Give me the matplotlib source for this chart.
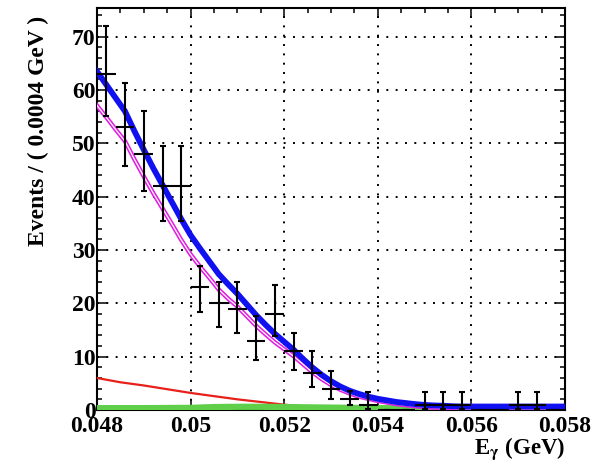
import numpy as np
import matplotlib
matplotlib.use("Agg")
import matplotlib.pyplot as plt
from matplotlib.ticker import MultipleLocator

plt.rcParams['font.family'] = ['Liberation Serif', 'DejaVu Serif']
plt.rcParams['font.weight'] = 'bold'
plt.rcParams['mathtext.fontset'] = 'stix'
plt.rcParams['mathtext.default'] = 'bf'

# ---- data (binned events, bin width 0.0004 GeV) ----
bin_centers = [0.0482, 0.0486, 0.0490, 0.0494, 0.0498, 0.0502, 0.0506, 0.0510,
               0.0514, 0.0518, 0.0522, 0.0526, 0.0530, 0.0534, 0.0538, 0.0542,
               0.0546, 0.0550, 0.0554, 0.0558, 0.0562, 0.0566, 0.0570, 0.0574, 0.0578]
counts = [63, 53, 48, 42, 42, 23, 20, 19, 13, 18, 11, 7, 4, 2, 1, 0,
          0, 1, 1, 1, 0, 0, 1, 1, 0]
err_hi = [9.0, 8.3, 8.0, 7.6, 7.6, 4.0, 4.0, 5.0, 4.6, 5.5, 3.5, 4.0, 3.3, 1.6, 2.3, 0,
          0, 2.3, 2.3, 2.3, 0, 0, 2.3, 2.3, 0]
err_lo = [7.9, 7.3, 6.9, 6.5, 6.5, 4.6, 4.5, 4.6, 3.6, 4.2, 3.5, 2.7, 1.9, 1.1, 0.8, 0,
          0, 0.8, 0.8, 0.8, 0, 0, 0.8, 0.8, 0]

# ---- fit curves, sampled every 0.0002 GeV ----
curve_x = [0.0480, 0.0482, 0.0484, 0.0486, 0.0488, 0.0490, 0.0492, 0.0494, 0.0496, 0.0498,
           0.0500, 0.0502, 0.0504, 0.0506, 0.0508, 0.0510, 0.0512, 0.0514, 0.0516, 0.0518,
           0.0520, 0.0522, 0.0524, 0.0526, 0.0528, 0.0530, 0.0532, 0.0534, 0.0536, 0.0538,
           0.0540, 0.0542, 0.0544, 0.0546, 0.0548, 0.0550, 0.0552, 0.0554, 0.0556, 0.0558,
           0.0560, 0.0562, 0.0564, 0.0566, 0.0568, 0.0570, 0.0572, 0.0574, 0.0576, 0.0578,
           0.0580]
total = [63.5, 61.0, 58.5, 56.0, 52.3, 48.8, 45.4, 42.2, 39.0, 35.8,
         32.8, 30.3, 27.9, 25.5, 23.6, 21.8, 19.8, 17.8, 16.0, 14.3,
         12.8, 11.3, 9.6, 8.0, 6.6, 5.4, 4.4, 3.6, 3.0, 2.5,
         2.1, 1.8, 1.5, 1.3, 1.1, 0.95, 0.85, 0.8, 0.7, 0.65,
         0.65, 0.65, 0.65, 0.65, 0.65, 0.65, 0.65, 0.65, 0.65, 0.65, 0.65]
signal = [57.1, 54.9, 52.6, 50.4, 47.0, 43.8, 40.7, 37.8, 34.9, 31.9,
          29.2, 26.9, 24.8, 22.6, 20.9, 19.4, 17.6, 15.8, 14.2, 12.7,
          11.4, 10.1, 8.6, 7.1, 5.8, 4.7, 3.8, 3.1, 2.5, 2.1,
          1.7, 1.4, 1.1, 0.9, 0.7, 0.55, 0.45, 0.4, 0.3, 0.25,
          0.25, 0.25, 0.25, 0.25, 0.25, 0.25, 0.25, 0.25, 0.25, 0.25, 0.25]
bkg1_x = [0.0480, 0.0485, 0.0490, 0.0495, 0.0500, 0.0505, 0.0510, 0.0515, 0.0520,
          0.0525, 0.0530, 0.0535, 0.0540, 0.0580]
bkg1 = [6.0, 5.2, 4.6, 3.9, 3.2, 2.6, 2.0, 1.5, 1.0, 0.6, 0.3, 0.1, 0.0, 0.0]
bkg2_x = [0.0480, 0.0490, 0.0500, 0.0505, 0.0510, 0.0515, 0.0520, 0.0525, 0.0530,
          0.0540, 0.0550, 0.0580]
bkg2 = [0.35, 0.35, 0.4, 0.55, 0.6, 0.6, 0.55, 0.5, 0.45, 0.35, 0.3, 0.3]

fig = plt.figure(figsize=(6.04, 4.65), dpi=100)
ax = fig.add_axes([97/604, 55/465, 468/604, 402/465])
ax.set_xlim(0.048, 0.058)
ax.set_ylim(0, 75.4)

ax.set_xticks([0.048, 0.05, 0.052, 0.054, 0.056, 0.058])
ax.set_xticklabels(['0.048', '0.05', '0.052', '0.054', '0.056', '0.058'])
ax.xaxis.set_minor_locator(MultipleLocator(0.0005))
ax.yaxis.set_major_locator(MultipleLocator(10))
ax.yaxis.set_minor_locator(MultipleLocator(2))
ax.tick_params(which='both', direction='in', top=True, right=True, width=1.1)
ax.tick_params(which='major', length=7.5, labelsize=17)
ax.tick_params(which='minor', length=3.8)
ax.tick_params(axis='x', pad=4)
ax.tick_params(axis='y', pad=1)
for s in ax.spines.values():
    s.set_linewidth(1.5)

ax.grid(True, which='major', color='black', linestyle=(0, (1, 3.8)), linewidth=1.4)
ax.set_axisbelow(True)

ax.plot(bkg1_x, bkg1, color='#e8201a', lw=1.6, zorder=3)
ax.plot(bkg2_x, bkg2, color='#5fcf4a', lw=4.5, zorder=3, solid_capstyle='butt')
ax.plot(curve_x, signal, color='#e020e0', lw=3.2, zorder=4)
ax.plot(curve_x, signal, color='white', lw=0.9, zorder=4)
ax.plot(curve_x, total, color='#1010f0', lw=4.2, zorder=5)

bx = np.array(bin_centers)
cy = np.array(counts, dtype=float)
ax.errorbar(bx, cy, xerr=0.0002, fmt='none', ecolor='black', elinewidth=1.5,
            capsize=0, zorder=6)
ax.errorbar(bx, cy, yerr=[err_lo, err_hi], fmt='none', ecolor='black',
            elinewidth=1.5, capsize=2.2, capthick=1.5, zorder=6)

fig.text(38/604, 1 - 16/465, 'Events / ( 0.0004 GeV )', rotation=90,
         ha='center', va='top', fontsize=17, fontweight='bold')
fig.text(565/604, 1 - 454/465, r'E$_{\gamma}$ (GeV)', ha='right', va='baseline',
         fontsize=16.5, fontweight='bold')

fig.savefig('out.png', dpi=100)
